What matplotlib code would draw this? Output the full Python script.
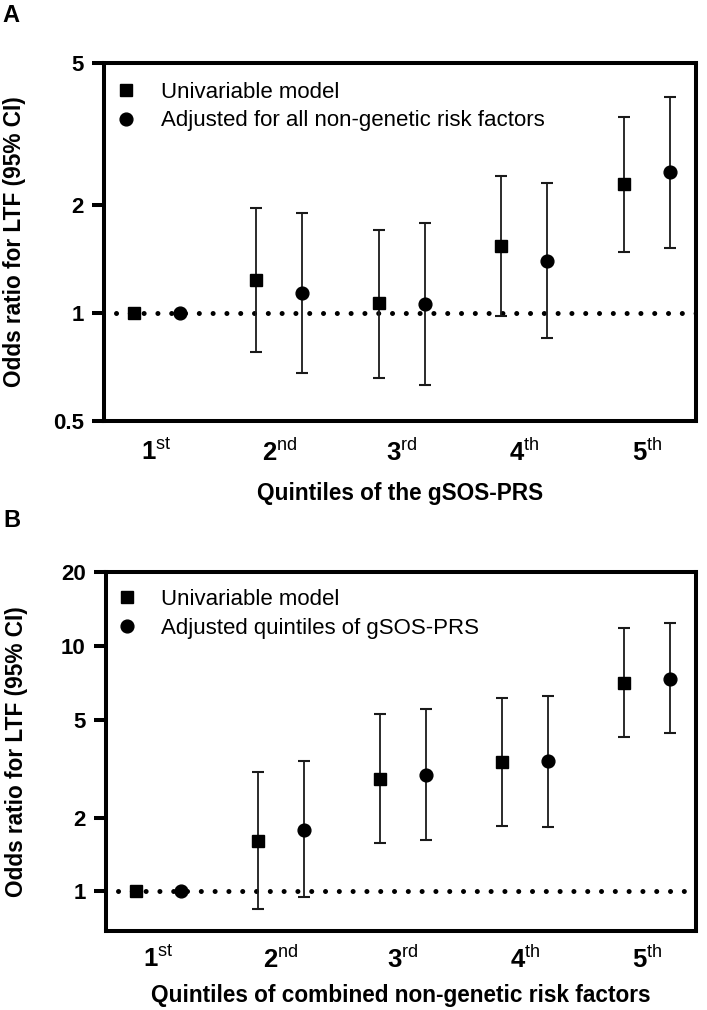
import numpy as np
import matplotlib
matplotlib.use("Agg")
import matplotlib.pyplot as plt

plt.rcParams['font.family'] = ['Liberation Sans', 'DejaVu Sans']
plt.rcParams['mathtext.fontset'] = 'custom'
plt.rcParams['mathtext.rm'] = 'Liberation Sans'
plt.rcParams['mathtext.bf'] = 'Liberation Sans:bold'
plt.rcParams['mathtext.it'] = 'Liberation Sans:italic'

# ---------------- data ----------------
ordinal_nums = ['1', '2', '3', '4', '5']
ordinal_sups = ['st', 'nd', 'rd', 'th', 'th']
nan = np.nan

# Panel A: quintiles of the gSOS-PRS
A_uni_or = [1.00, 1.24, 1.07, 1.54, 2.30]
A_uni_lo = [nan, 0.78, 0.66, 0.98, 1.48]
A_uni_hi = [nan, 1.97, 1.71, 2.42, 3.53]
A_adj_or = [1.00, 1.14, 1.06, 1.40, 2.48]
A_adj_lo = [nan, 0.68, 0.63, 0.85, 1.52]
A_adj_hi = [nan, 1.91, 1.79, 2.31, 4.02]

# Panel B: quintiles of combined non-genetic risk factors
B_uni_or = [1.00, 1.61, 2.87, 3.36, 7.08]
B_uni_lo = [nan, 0.85, 1.58, 1.85, 4.24]
B_uni_hi = [nan, 3.06, 5.26, 6.16, 11.8]
B_adj_or = [1.00, 1.78, 2.98, 3.39, 7.35]
B_adj_lo = [nan, 0.95, 1.62, 1.83, 4.40]
B_adj_hi = [nan, 3.39, 5.51, 6.28, 12.4]

A_yticks = [0.5, 1, 2, 5]
B_yticks = [1, 2, 5, 10, 20]

A_legend = ['Univariable model', 'Adjusted for all non-genetic risk factors']
B_legend = ['Univariable model', 'Adjusted quintiles of gSOS-PRS']
A_xlabel = 'Quintiles of the gSOS-PRS'
B_xlabel = 'Quintiles of combined non-genetic risk factors'
ylabel = 'Odds ratio for LTF (95% CI)'

# ---------------- style ----------------
W, H = 707, 1010
fig = plt.figure(figsize=(W / 100, H / 100), dpi=100)

SPINE_LW = 2.9
OFFSET = 0.1875
ECOL = '#1a1a1a'


def panel(rect, uni, adj, yticks, ylim, legend_labels, xlabel, letter,
          letter_xy, leg_anchor, xlabel_y, xtick_pad):
    ax = fig.add_axes(rect)
    x = np.arange(len(ordinal_nums))
    ax.set_yscale('log')
    ax.set_xlim(-0.43, 4.40)
    ax.set_ylim(*ylim)

    # reference line
    ax.plot([-0.33, 4.40], [1, 1], color='black', lw=3.6,
            linestyle=(0, (0.01, 2.75)), dash_capstyle='round', zorder=1)

    handles = []
    for (orv, lo, hi), dx, mk, lab in ((uni, -OFFSET, 's', legend_labels[0]),
                                        (adj, OFFSET, 'o', legend_labels[1])):
        orv = np.array(orv); lo = np.array(lo); hi = np.array(hi)
        m = ~np.isnan(lo)
        ax.errorbar(x[m] + dx, orv[m], yerr=[orv[m] - lo[m], hi[m] - orv[m]],
                    fmt='none', ecolor=ECOL, elinewidth=1.3, capsize=4.5,
                    capthick=1.5, zorder=2)
        h, = ax.plot(x + dx, orv, linestyle='none', marker=mk, color='black',
                     markersize=8.7 if mk == 's' else 9.2, zorder=3, label=lab)
        handles.append(h)

    for s in ax.spines.values():
        s.set_linewidth(SPINE_LW)
        s.set_zorder(5)

    ax.set_yticks(yticks)
    ax.set_yticklabels([('%g' % t) for t in yticks], fontsize=16,
                       fontweight='bold')
    ax.yaxis.set_minor_locator(matplotlib.ticker.NullLocator())
    ax.tick_params(axis='y', direction='out', length=8.5, width=SPINE_LW,
                   pad=6)
    ax.set_xticks(x)
    ax.set_xticklabels([r'$\mathbf{%s}^{\mathrm{%s}}$' % (n, s)
                        for n, s in zip(ordinal_nums, ordinal_sups)],
                       fontsize=18.5)
    ax.tick_params(axis='x', length=0, pad=xtick_pad)

    ax.set_ylabel(ylabel, fontsize=16.3, fontweight='bold')
    ax.yaxis.set_label_coords(-0.132, 0.5)
    ax.set_xlabel(xlabel, fontsize=16.3, fontweight='bold')
    ax.xaxis.set_label_coords(0.5, xlabel_y)

    ax.legend(handles=handles, loc='upper left', bbox_to_anchor=leg_anchor,
              frameon=False, fontsize=16, handlelength=1.0,
              handletextpad=1.05, labelspacing=0.33, borderaxespad=0,
              borderpad=0)

    fig.text(letter_xy[0], letter_xy[1], letter, fontsize=17,
             fontweight='bold', ha='left', va='top')
    return ax


panel([104 / W, 1 - 421 / H, (696 - 104) / W, (421 - 63) / H],
      (A_uni_or, A_uni_lo, A_uni_hi), (A_adj_or, A_adj_lo, A_adj_hi),
      A_yticks, (0.5, 5), A_legend, A_xlabel, 'A', (2 / W, 1 - 4 / H),
      (0.019, 0.947), -0.17, 13)

panel([106 / W, 1 - 931 / H, (696 - 106) / W, (931 - 572) / H],
      (B_uni_or, B_uni_lo, B_uni_hi), (B_adj_or, B_adj_lo, B_adj_hi),
      B_yticks, (0.69, 20), B_legend, B_xlabel, 'B', (3 / W, 1 - 509 / H),
      (0.016, 0.952), -0.147, 10.5)

fig.savefig('out.png', dpi=100)
